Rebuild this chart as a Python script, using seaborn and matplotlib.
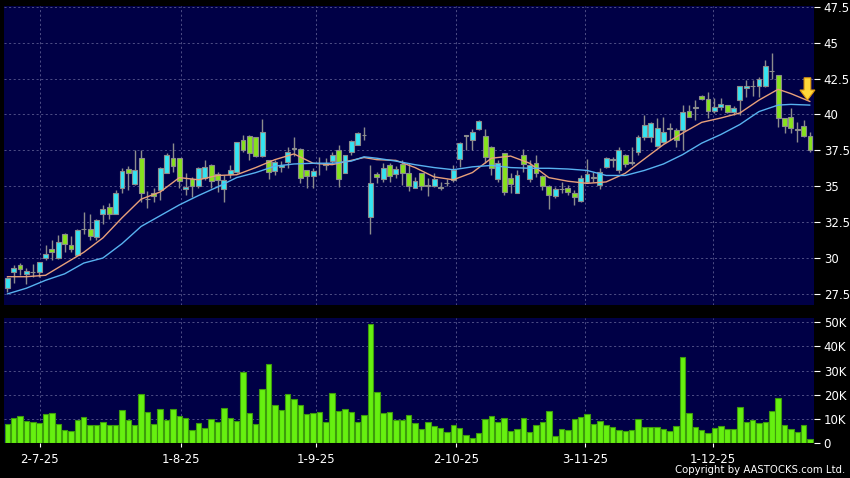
import numpy as np
import pandas as pd
import matplotlib
matplotlib.use("Agg")
import matplotlib.pyplot as plt
import seaborn as sns

# daily OHLC (127 sessions, 24-Jun-25 .. Dec-25)
opens = [27.9, 29.0, 29.5, 28.9, 29.05, 29.05, 30.0, 30.6, 30.0, 31.7,
         30.9, 30.2, 32.0, 32.05, 31.45, 33.1, 33.55, 33.1, 34.85, 36.2,
         35.15, 36.95, 34.1, 34.55, 34.75, 35.95, 37.0, 37.0, 34.8, 35.5,
         35.0, 35.55, 36.5, 35.85, 34.8, 35.85, 36.0, 38.25, 38.5, 38.4,
         37.1, 36.8, 36.05, 36.35, 36.7, 37.6, 37.6, 36.1, 35.7, 36.6,
         36.6, 36.75, 37.5, 35.95, 37.35, 37.9, 38.55, 32.85, 35.85, 35.5,
         36.45, 35.85, 36.55, 35.95, 34.9, 35.9, 35.1, 35.05, 34.95, 35.2,
         35.45, 36.9, 38.5, 38.2, 39.0, 38.5, 37.75, 35.5, 37.3, 35.55,
         34.5, 37.15, 35.5, 36.6, 35.7, 35.05, 34.3, 34.8, 34.9, 34.55,
         34.0, 35.3, 35.6, 35.1, 36.35, 36.85, 36.1, 37.2, 36.65, 37.4,
         38.4, 38.45, 37.8, 38.05, 39.05, 38.9, 38.95, 40.25, 40.45, 41.3,
         41.05, 40.25, 40.5, 40.65, 40.15, 41.0, 41.85, 41.95, 42.0, 42.0,
         43.05, 42.75, 39.75, 39.85, 39.0, 39.2, 38.5]
highs = [28.7, 29.5, 29.65, 29.3, 29.6, 29.75, 30.9, 31.25, 31.6, 31.75,
         31.5, 32.05, 33.2, 33.1, 32.7, 33.7, 33.85, 34.75, 36.3, 36.4,
         37.55, 37.55, 34.7, 34.85, 36.35, 37.3, 38.0, 37.0, 35.95, 35.65,
         36.35, 36.8, 36.55, 36.0, 35.8, 36.5, 38.1, 38.55, 38.55, 38.4,
         39.7, 36.85, 36.85, 36.75, 37.75, 38.45, 37.65, 36.1, 36.25, 37.05,
         36.95, 37.4, 37.85, 37.2, 38.2, 38.75, 39.15, 36.5, 36.0, 36.6,
         36.6, 36.4, 36.8, 36.6, 35.65, 35.9, 35.55, 35.9, 35.3, 35.5,
         36.5, 38.1, 38.57, 39.0, 39.6, 39.0, 37.8, 36.85, 37.3, 35.9,
         36.1, 37.6, 36.85, 37.15, 35.75, 35.1, 34.97, 35.3, 35.1, 34.74,
         35.8, 36.9, 36.0, 36.25, 37.06, 37.06, 37.76, 37.25, 37.76, 38.57,
         39.95, 39.45, 39.73, 39.85, 39.38, 39.03, 40.65, 40.65, 41.0, 41.33,
         41.55, 41.12, 41.12, 40.66, 40.6, 42.0, 42.4, 42.4, 42.63, 43.79,
         44.25, 42.75, 39.75, 40.43, 39.5, 39.6, 38.8]
lows = [27.65, 28.25, 28.8, 28.2, 28.7, 28.7, 29.85, 29.85, 29.95, 30.45,
        30.45, 30.2, 31.7, 31.25, 31.25, 32.35, 32.7, 33.1, 34.5, 34.75,
        35.1, 33.9, 33.5, 33.9, 34.05, 35.9, 36.0, 34.9, 34.4, 34.25,
        34.9, 35.4, 34.9, 34.6, 33.9, 35.6, 35.95, 37.4, 36.8, 37.05,
        37.05, 35.5, 35.8, 36.0, 36.25, 37.1, 35.2, 34.85, 34.85, 35.8,
        36.1, 36.6, 34.95, 35.9, 37.2, 37.9, 38.2, 31.7, 35.2, 35.3,
        35.3, 35.55, 35.1, 34.65, 34.85, 34.75, 34.3, 34.95, 34.75, 35.0,
        35.3, 36.35, 37.53, 37.5, 38.95, 36.6, 35.8, 35.3, 34.4, 34.5,
        34.5, 36.0, 35.3, 35.67, 34.75, 33.4, 34.16, 34.5, 34.4, 33.7,
        33.93, 35.2, 35.3, 34.78, 36.3, 36.36, 35.9, 36.36, 36.5, 37.2,
        38.22, 38.1, 37.75, 38.0, 38.22, 37.76, 37.5, 39.8, 39.6, 41.0,
        39.75, 40.08, 40.3, 40.08, 39.96, 39.96, 41.23, 41.25, 41.24, 41.93,
        42.5, 39.15, 38.7, 38.7, 38.1, 38.4, 37.4]
closes = [28.6, 29.3, 29.25, 29.1, 29.05, 29.75, 30.25, 30.4, 31.15, 31.0,
          30.65, 31.95, 32.0, 31.5, 32.65, 33.4, 33.05, 34.5, 36.05, 35.9,
          36.15, 34.55, 34.1, 34.3, 36.3, 37.2, 36.4, 35.35, 34.95, 35.0,
          36.25, 36.35, 35.35, 35.4, 35.4, 36.1, 38.05, 37.5, 37.3, 37.1,
          38.8, 36.0, 36.7, 36.45, 37.4, 37.65, 35.55, 35.7, 36.05, 36.6,
          36.45, 37.2, 35.5, 37.2, 38.15, 38.7, 38.6, 35.2, 35.65, 36.25,
          35.7, 36.2, 35.95, 35.0, 35.35, 35.0, 35.05, 35.5, 34.85, 35.2,
          36.1, 38.0, 38.55, 38.75, 39.55, 37.05, 36.3, 36.6, 34.6, 35.15,
          35.75, 36.55, 36.45, 35.9, 35.0, 34.4, 34.8, 34.8, 34.6, 34.25,
          35.55, 35.85, 35.65, 36.0, 36.95, 36.9, 37.5, 36.55, 36.7, 38.45,
          39.25, 39.4, 39.05, 38.8, 39.0, 38.25, 40.2, 39.85, 40.5, 41.05,
          40.25, 40.5, 40.7, 40.15, 40.45, 42.0, 42.0, 42.0, 42.5, 43.35,
          43.0, 39.75, 39.2, 39.05, 38.95, 38.5, 37.5]

# volume in thousands of shares
vol_k = [8.1, 10.6, 11.3, 9.0, 8.75, 8.5, 12.1, 12.5, 7.9, 5.6,
         5.1, 9.7, 11.0, 7.6, 7.6, 8.6, 7.6, 7.4, 13.6, 9.7,
         7.6, 20.4, 13.0, 7.8, 14.2, 9.6, 14.3, 11.4, 10.4, 5.3,
         8.2, 6.4, 10.0, 8.9, 14.7, 10.4, 9.4, 29.3, 12.6, 8.1,
         22.6, 32.8, 15.8, 13.9, 20.4, 18.1, 16.0, 12.2, 12.5, 12.9,
         8.9, 20.7, 13.5, 14.3, 13.1, 8.75, 11.8, 49.3, 21.2, 12.4,
         12.8, 9.7, 9.7, 11.8, 8.5, 5.8, 8.7, 7.2, 6.4, 4.7,
         7.5, 6.4, 3.5, 2.2, 4.4, 10.1, 11.1, 8.9, 10.4, 5.0,
         6.0, 10.4, 4.7, 7.5, 8.75, 13.2, 2.9, 5.8, 5.4, 9.9,
         10.7, 12.1, 8.1, 9.3, 7.5, 6.7, 5.6, 5.1, 5.6, 10.0,
         6.9, 6.9, 6.8, 6.1, 5.0, 7.2, 35.7, 12.6, 6.7, 5.6,
         4.3, 6.4, 7.2, 5.7, 6.0, 15.1, 8.9, 9.7, 8.2, 8.9,
         13.5, 18.75, 7.6, 6.1, 4.6, 7.5, 1.8]

# moving averages read at selected sessions
ma_idx = [0, 3, 6, 9, 12, 15, 18, 21, 24, 27, 30, 33, 36, 39, 42, 45, 48,
          51, 54, 56, 58, 61, 64, 67, 70, 73, 76, 79, 82, 85, 88, 91, 94,
          97, 100, 103, 106, 109, 112, 115, 118, 121, 123, 126]
ma_short = [28.7, 28.7, 28.8, 29.6, 30.4, 31.4, 32.8, 34.1, 34.6, 35.6,
            35.45, 35.75, 35.8, 36.3, 36.85, 37.25, 36.6, 36.5, 36.8, 37.0,
            36.85, 36.8, 36.3, 35.65, 35.45, 35.95, 36.95, 37.1, 36.6, 35.6,
            35.35, 35.2, 35.3, 35.9, 36.9, 37.9, 38.7, 39.45, 39.75, 40.1,
            41.0, 41.75, 41.45, 40.9]
ma_long = [27.5, 27.9, 28.45, 28.9, 29.65, 30.0, 31.0, 32.2, 32.95, 33.7,
           34.35, 34.95, 35.6, 35.95, 36.4, 36.55, 36.6, 36.6, 36.75, 37.05,
           36.95, 36.75, 36.5, 36.3, 36.15, 36.35, 36.45, 36.3, 36.25, 36.25,
           36.2, 36.1, 35.75, 35.75, 36.1, 36.55, 37.2, 38.0, 38.6, 39.3,
           40.2, 40.65, 40.7, 40.65]

date_labels = ["2-7-25", "1-8-25", "1-9-25", "2-10-25", "3-11-25", "1-12-25"]
date_pos = [5.1, 27.25, 48.4, 70.5, 90.65, 110.7]
price_ticks = [27.5, 30, 32.5, 35, 37.5, 40, 42.5, 45, 47.5]
vol_ticks = [0, 10, 20, 30, 40, 50]

df = pd.DataFrame({"open": opens, "high": highs, "low": lows,
                   "close": closes, "vol": vol_k})
df["idx"] = np.arange(len(df))
up = df["close"] >= df["open"]

sns.set_theme(style="dark")
plt.rcParams["font.family"] = ["DejaVu Sans"]

BG = "#000046"
GRID = "#5a5a90"
fig = plt.figure(figsize=(8.5, 4.78), dpi=100, facecolor="black")
ax = fig.add_axes([4 / 850, 1 - 305 / 478, 810 / 850, 299 / 478])
axv = fig.add_axes([4 / 850, 1 - 443.3 / 478, 810 / 850, 125.3 / 478])

for a in (ax, axv):
    a.set_facecolor(BG)
    for s in a.spines.values():
        s.set_visible(False)

# candles
ax.vlines(df["idx"], df["low"], df["high"], color="#8c8c8c", lw=1, zorder=2)
body_lo = df[["open", "close"]].min(axis=1)
body_h = (df["close"] - df["open"]).abs()
ax.bar(df["idx"], body_h, bottom=body_lo, width=0.76,
       color=np.where(up, "#35e4f2", "#86e21c"),
       edgecolor="#8c8c8c", linewidth=0.8, zorder=3)

# moving averages
sns.lineplot(x=ma_idx, y=ma_short, ax=ax, color="#e8a07a", lw=1, zorder=4)
sns.lineplot(x=ma_idx, y=ma_long, ax=ax, color="#58b2f0", lw=1, zorder=4)

ax.arrow(125.6, 42.55, 0, -1.55, width=1.05, head_width=2.35,
         head_length=0.7, length_includes_head=True, fc="#ffd83a",
         ec="#e09a10", lw=0.8, clip_on=False, zorder=6)

# volume
sns.barplot(data=df, x="idx", y="vol", ax=axv, native_scale=True,
            color="#66f010", edgecolor="#3d9c0c", linewidth=0.8,
            width=0.86, saturation=1)

xlim = (-0.52, 126.63)
ax.set_xlim(xlim)
axv.set_xlim(xlim)
ax.set_ylim(26.73, 47.55)
axv.set_ylim(0, 51.7)

ax.set_xticks(date_pos)
ax.set_xticklabels([])
ax.set_yticks(price_ticks)
ax.set_yticklabels([f"{t:g}" for t in price_ticks])
axv.set_xticks(date_pos)
axv.set_xticklabels(date_labels)
axv.set_yticks(vol_ticks)
axv.set_yticklabels([f"{t}K" if t else "0" for t in vol_ticks])

for a in (ax, axv):
    a.set_xlabel("")
    a.set_ylabel("")
    a.yaxis.tick_right()
    a.grid(True, color=GRID, lw=0.6, ls=(0, (2.5, 3)))
    a.set_axisbelow(True)
    a.tick_params(axis="y", which="both", right=True, left=False,
                  length=4, width=0.8, color="white", labelcolor="white",
                  labelsize=8.5, pad=3)
ax.tick_params(axis="x", length=0)
axv.tick_params(axis="x", bottom=True, length=3, width=0.8, color="white",
                labelcolor="white", labelsize=8.5, pad=4)

fig.text(845 / 850, 1 - 470 / 478, "Copyright by AASTOCKS.com Ltd.",
         ha="right", va="center", color="white", fontsize=7.3)

fig.savefig("out.png", dpi=100, facecolor="black")
